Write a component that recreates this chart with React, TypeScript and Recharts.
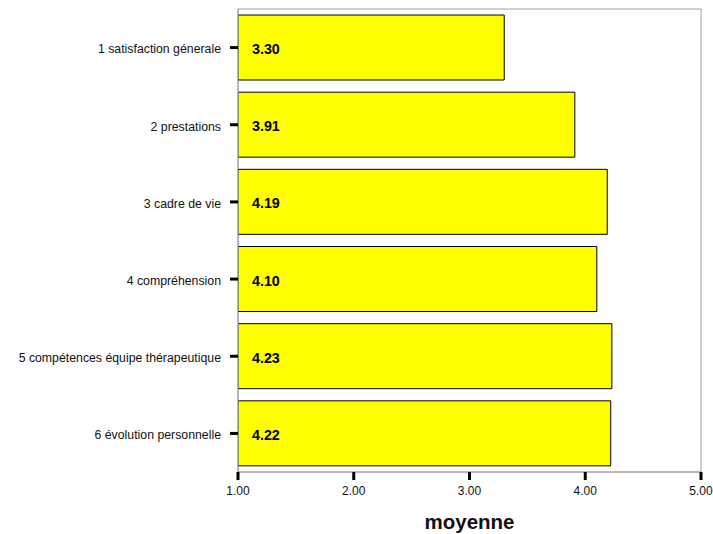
import React from 'react';
import { BarChart, Bar, XAxis, YAxis, LabelList, ReferenceArea } from 'recharts';

const categories = [
  '1 satisfaction génerale',
  '2 prestations',
  '3 cadre de vie',
  '4 compréhension',
  '5 compétences équipe thérapeutique',
  '6 évolution personnelle',
];
const moyennes = [3.3, 3.91, 4.19, 4.1, 4.23, 4.22];
const xTicks = [1, 2, 3, 4, 5];

const data = categories.map((c, i) => ({ name: c, value: moyennes[i] }));

const font = 'Liberation Sans, Arial, sans-serif';

const ValueLabel = (props: any) => {
  const { x, y, height, value } = props;
  return (
    <text x={x + 14} y={y + height / 2 + 1.5} dy="0.35em" fontFamily={font} fontSize={14.3} fontWeight="bold" fill="#000">
      {Number(value).toFixed(2)}
    </text>
  );
};

const YTick = (props: any) => {
  const { x, y, payload } = props;
  return (
    <text x={x} y={y + 1.5} dy="0.35em" textAnchor="end" fontFamily={font} fontSize={12.3} fill="#111">
      {payload.value}
    </text>
  );
};

export default function App() {
  return (
    <div style={{ position: 'absolute', left: 0, top: 0, background: '#fff' }}>
      <BarChart
        width={713}
        height={534}
        data={data}
        layout="vertical"
        margin={{ top: 9, right: 12, left: 0, bottom: 0 }}
        barCategoryGap={6}
      >
        <ReferenceArea x1={1} x2={5} fill="none" stroke="#a0a0a0" strokeWidth={1} ifOverflow="visible" />
        <XAxis
          type="number"
          domain={[1, 5]}
          ticks={xTicks}
          tickFormatter={(v: number) => v.toFixed(2)}
          height={62}
          tickSize={8}
          tickMargin={6}
          axisLine={{ stroke: '#a0a0a0' }}
          tickLine={{ stroke: '#000', strokeWidth: 3 }}
          tick={{ fontFamily: font, fontSize: 12, fill: '#111' }}
          label={{ value: 'moyenne', position: 'insideBottom', offset: 5, style: { fontFamily: font, fontSize: 20.5, fontWeight: 'bold', fill: '#111' } }}
          allowDataOverflow
        />
        <YAxis
          type="category"
          dataKey="name"
          width={238}
          tickSize={8}
          tickMargin={9}
          axisLine={{ stroke: '#a0a0a0' }}
          tickLine={{ stroke: '#000', strokeWidth: 3 }}
          tick={<YTick />}
        />
        <Bar dataKey="value" fill="#ffff00" stroke="#000" strokeWidth={1} isAnimationActive={false}>
          <LabelList dataKey="value" content={ValueLabel} />
        </Bar>
      </BarChart>
    </div>
  );
}
